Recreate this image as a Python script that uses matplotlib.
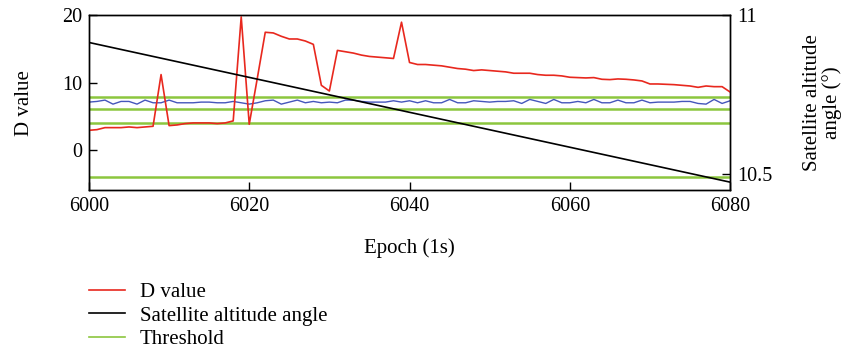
import numpy as np
import matplotlib.pyplot as plt
from matplotlib.lines import Line2D

plt.rcParams['font.family'] = ['Liberation Serif', 'DejaVu Serif']

# Epoch axis
epochs = np.arange(6000, 6081)

# D value per epoch
d_value = [2.9, 3.0, 3.3, 3.3, 3.3, 3.4, 3.3, 3.4, 3.5, 11.2,
           3.6, 3.7, 3.9, 4.0, 4.0, 4.0, 3.9, 4.0, 4.3, 19.8,
           3.8, 10.6, 17.5, 17.4, 16.9, 16.5, 16.5, 16.2, 15.7, 9.6,
           8.75, 14.8, 14.6, 14.4, 14.1, 13.9, 13.8, 13.7, 13.6, 19.0,
           13.0, 12.7, 12.7, 12.6, 12.5, 12.3, 12.1, 12.0, 11.8, 11.9,
           11.8, 11.7, 11.6, 11.4, 11.4, 11.4, 11.2, 11.1, 11.1, 11.0,
           10.8, 10.75, 10.7, 10.75, 10.5, 10.45, 10.55, 10.5, 10.4, 10.25,
           9.8, 9.8, 9.75, 9.7, 9.6, 9.5, 9.3, 9.5, 9.4, 9.4,
           8.6]

# blue reference curve
ref_value = [7.1, 7.2, 7.4, 6.8, 7.2, 7.2, 6.8, 7.4, 7.0, 7.0,
             7.4, 7.0, 7.0, 7.0, 7.1, 7.1, 7.0, 7.0, 7.2, 7.0,
             6.8, 7.0, 7.3, 7.4, 6.8, 7.1, 7.4, 7.0, 7.2, 7.0,
             7.1, 7.0, 7.4, 7.4, 7.2, 7.1, 7.1, 7.1, 7.3, 7.1,
             7.3, 7.0, 7.3, 7.0, 7.0, 7.5, 7.0, 7.0, 7.3, 7.2,
             7.1, 7.2, 7.2, 7.3, 6.9, 7.5, 7.2, 6.9, 7.5, 7.0,
             7.0, 7.2, 7.0, 7.5, 7.0, 7.0, 7.4, 7.0, 7.0, 7.4,
             7.0, 7.1, 7.1, 7.1, 7.2, 7.2, 6.9, 6.8, 7.5, 6.9,
             7.3]

# satellite altitude angle (deg), start and end of the pass segment
angle_epochs = [6000, 6080]
angle_deg = [10.915, 10.475]

thresholds = [7.9, 6.1, 4.0, -4.0]

red = '#e8281e'
green = '#8cc63e'
blue = '#4556bb'

fig = plt.figure(figsize=(8.47, 3.6), dpi=100)
ax = fig.add_axes([0.105, 0.472, 0.757, 0.485])

for t in thresholds:
    ax.axhline(t, color=green, lw=1.8, zorder=1)
ax.plot(epochs, ref_value, color=blue, lw=1.0, zorder=2)
ax.plot(epochs, d_value, color=red, lw=1.2, zorder=3)

ax.set_xlim(6000, 6080)
ax.set_ylim(-6, 20)
ax.set_xticks([6000, 6020, 6040, 6060, 6080])
ax.set_yticks([0, 10, 20])
ax.tick_params(direction='in', length=6, width=1, labelsize=14.5, pad=5)
ax.set_xlabel('Epoch (1s)', fontsize=15, labelpad=16)
ax.set_ylabel('D value', fontsize=15, labelpad=20)

ax2 = ax.twinx()
ax2.plot(angle_epochs, angle_deg, color='black', lw=1.2)
ax2.set_ylim(10.45, 11)
ax2.set_yticks([10.5, 11])
ax2.set_yticklabels(['10.5', '11'])
ax2.tick_params(direction='in', length=6, width=1, labelsize=14.5, pad=5)
ax2.set_ylabel('Satellite altitude\nangle (°)', fontsize=15, labelpad=22,
               linespacing=1.0)

for a in (ax, ax2):
    for s in a.spines.values():
        s.set_linewidth(1.0)

handles = [Line2D([], [], color=red, lw=1.2),
           Line2D([], [], color='black', lw=1.2),
           Line2D([], [], color=green, lw=1.2)]
fig.legend(handles, ['D value', 'Satellite altitude angle', 'Threshold'],
           loc='upper left', bbox_to_anchor=(0.105, 0.215), frameon=False,
           fontsize=15, borderpad=0, borderaxespad=0, handlelength=1.75,
           handletextpad=0.7, labelspacing=0.18)

fig.savefig('out.png', dpi=100)
